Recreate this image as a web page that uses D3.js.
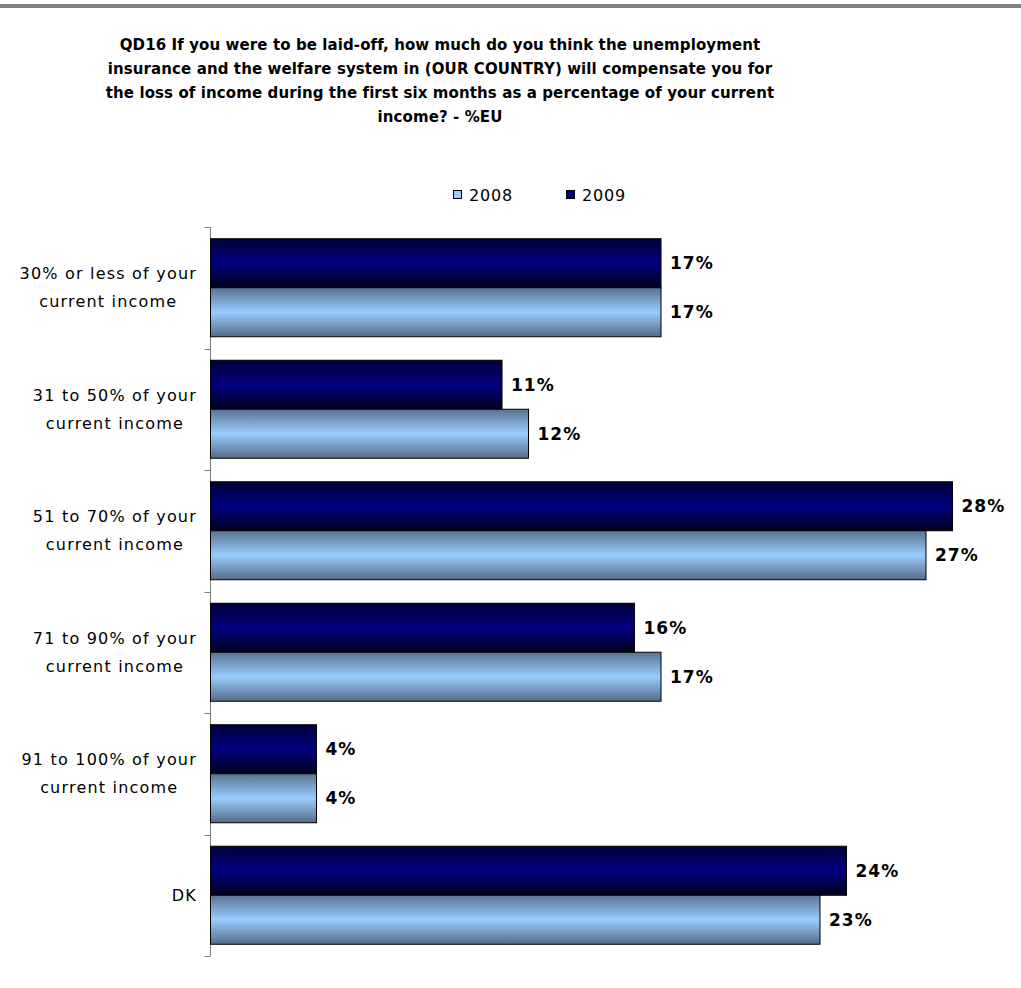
<!DOCTYPE html>
<html>
<head>
<meta charset="utf-8">
<script src="https://cdn.jsdelivr.net/npm/d3@7"></script>
<style>
  html, body { margin: 0; padding: 0; background: #fff; }
  svg { display: block; }
</style>
</head>
<body>
<svg id="chart" width="1021" height="988"></svg>
<script>
// ---- data ----
const titleLines = [
  "QD16 If you were to be laid-off, how much do you think the unemployment",
  "insurance and the welfare system in (OUR COUNTRY) will compensate you for",
  "the loss of income during the first six months as a percentage of your current",
  "income? - %EU"
];
const categories = [
  ["30% or less of your", "current income"],
  ["31 to 50% of your", "current income"],
  ["51 to 70% of your", "current income"],
  ["71 to 90% of your", "current income"],
  ["91 to 100% of your", "current income"],
  ["DK"]
];
const seriesNames = ["2008", "2009"];
const values2008 = [17, 12, 27, 17, 4, 23];
const values2009 = [17, 11, 28, 16, 4, 24];

// ---- layout ----
const svg = d3.select("#chart");
const W = 1021, H = 988;

svg.append("rect").attr("x", 0).attr("y", 4).attr("width", W).attr("height", 4).attr("fill", "#808080");

const defs = svg.append("defs");
function grad(id, edgeTop, mid, edgeBot) {
  const g = defs.append("linearGradient").attr("id", id)
    .attr("x1", 0).attr("y1", 0).attr("x2", 0).attr("y2", 1);
  g.append("stop").attr("offset", "0%").attr("stop-color", edgeTop);
  g.append("stop").attr("offset", "50%").attr("stop-color", mid);
  g.append("stop").attr("offset", "100%").attr("stop-color", edgeBot);
}
grad("g2009", "#00003a", "#000080", "#00001e");
grad("g2008", "#5a7391", "#99ccff", "#566b86");
const fills = { "2008": "url(#g2008)", "2009": "url(#g2009)" };
const legendFills = { "2008": "#99ccff", "2009": "#000080" };

// title
const title = svg.append("text")
  .attr("font-family", "DejaVu Sans, Verdana, sans-serif")
  .attr("font-weight", "bold").attr("font-size", 15)
  .attr("letter-spacing", 0.1)
  .attr("text-anchor", "middle").attr("fill", "#000");
titleLines.forEach((t, i) => {
  title.append("tspan").attr("x", 440).attr("y", 50 + i * 24).text(t);
});

// scales
const x = d3.scaleLinear().domain([0, 30]).range([210.5, 1005.5]);
const y = d3.scaleBand().domain(d3.range(categories.length)).range([227, 956])
  .paddingInner(0.1934).paddingOuter(0.0967);
const ySub = d3.scaleBand().domain(["2009", "2008"]).range([0, y.bandwidth()]);

// axis
const axis = d3.axisLeft(y).tickSize(0).tickFormat("");
const ag = svg.append("g").attr("transform", "translate(210.5,0)").call(axis);
ag.select(".domain").attr("stroke", "#808080").attr("d", `M0,${227}V${956}`);
// tick marks at band boundaries
const bounds = d3.range(categories.length + 1).map(i => 227 + i * y.step());
ag.selectAll(".bt").data(bounds).enter().append("line")
  .attr("x1", -6).attr("x2", 0).attr("y1", d => Math.round(d) + 0.5).attr("y2", d => Math.round(d) + 0.5)
  .attr("stroke", "#808080");

// bars
const rows = categories.map((c, i) => ({ i, vals: { "2008": values2008[i], "2009": values2009[i] } }));
const grp = svg.selectAll(".cat").data(rows).enter().append("g")
  .attr("transform", d => `translate(0,${y(d.i)})`);
["2009", "2008"].forEach(s => {
  grp.append("rect")
    .attr("x", x(0))
    .attr("y", ySub(s))
    .attr("width", d => x(d.vals[s]) - x(0))
    .attr("height", ySub.bandwidth())
    .attr("fill", fills[s])
    .attr("stroke", "#000").attr("stroke-width", 1);
  grp.append("text")
    .attr("x", d => x(d.vals[s]) + 9)
    .attr("y", ySub(s) + ySub.bandwidth() / 2 + 6)
    .attr("font-family", "DejaVu Sans, Verdana, sans-serif")
    .attr("font-weight", "bold").attr("font-size", 17)
    .attr("letter-spacing", 1)
    .attr("fill", "#000")
    .text(d => d.vals[s] + "%");
});

// category labels: block right-aligned at 197, lines centered within block
const labFont = { family: "DejaVu Sans, Verdana, sans-serif", size: 16 };
categories.forEach((lines, i) => {
  const cy = y(i) + y.bandwidth() / 2;
  const g = svg.append("g");
  const texts = lines.map((ln, k) => g.append("text")
    .attr("font-family", labFont.family).attr("font-size", labFont.size)
    .attr("letter-spacing", 1.2).attr("fill", "#000")
    .attr("text-anchor", "middle")
    .attr("y", cy + (k - (lines.length - 1) / 2) * 28 + 5.5)
    .text(ln));
  const widths = texts.map(t => t.node().getComputedTextLength());
  const bw = d3.max(widths);
  texts.forEach(t => t.attr("x", 197 - bw / 2));
});

// legend
const legX = [453, 566];
seriesNames.forEach((s, i) => {
  svg.append("rect").attr("x", legX[i] + 0.5).attr("y", 190.5).attr("width", 8).attr("height", 8)
    .attr("fill", legendFills[s]).attr("stroke", "#000").attr("stroke-width", 1);
  svg.append("text").attr("x", legX[i] + 16).attr("y", 201)
    .attr("font-family", "DejaVu Sans, Verdana, sans-serif").attr("font-size", 16)
    .attr("letter-spacing", 0.8).attr("fill", "#000").text(s);
});
</script>
</body>
</html>
